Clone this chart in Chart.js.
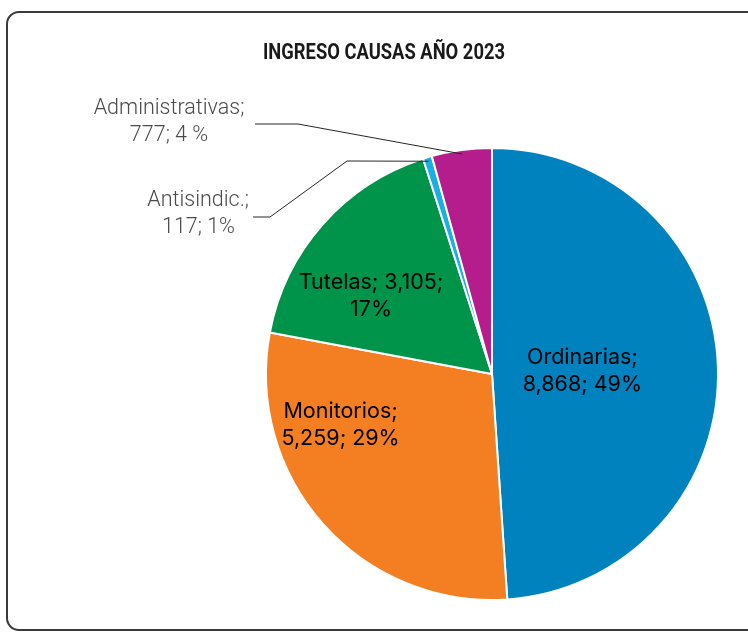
<!DOCTYPE html>
<html>
<head>
<meta charset="utf-8">
<script src="https://cdn.jsdelivr.net/npm/chart.js@4.4.1/dist/chart.umd.min.js"></script>
<style>
    html, body { margin: 0; padding: 0; background: #fff; overflow: hidden; }
    .wrap { position: absolute; left: 0; top: 0; width: 748px; height: 633px; }
</style>
</head>
<body>
<div class="wrap"><canvas id="pieChart" width="748" height="633"></canvas></div>
<script>
// data
const categories = ["Ordinarias", "Monitorios", "Tutelas", "Antisindic.", "Administrativas"];
const values = [8868, 5259, 3105, 117, 777];
const percentLabels = ["49%", "29%", "17%", "1%", "4 %"];
const valueLabels = ["8,868", "5,259", "3,105", "117", "777"];
const sliceColors = ["#0082BE", "#F47F22", "#00944A", "#1BAEE5", "#B51C8C"];
const chartTitle = "INGRESO CAUSAS AÑO 2023";

// label placement: inside labels offset from pie centre (fractions of radius),
// outside labels placed at a fixed spot with leader line
const labelLayout = [
    { inside: true, dx: 0.40, dy: -0.015, lines: (i) => [categories[i] + ";", valueLabels[i] + "; " + percentLabels[i]] },
    { inside: true, dx: -0.67, dy: 0.225, lines: (i) => [categories[i] + ";", valueLabels[i] + "; " + percentLabels[i]] },
    { inside: true, dx: -0.535, dy: -0.345, lines: (i) => [categories[i] + "; " + valueLabels[i] + ";", percentLabels[i]] },
    { inside: false, x: 249, y: 206, align: "right", shift: -14, path: [[253, 217], [270, 217], [347, 161]] },
    { inside: false, x: 169, y: 114, align: "center", shift: 0, path: [[255, 124], [298, 124]] },
];

// frame only shows its left, top and bottom edges; the right side runs off the page
const framePlugin = {
    id: "frame",
    beforeDraw(chart) {
        const ctx = chart.ctx;
        ctx.save();
        ctx.strokeStyle = "#3a3a3a";
        ctx.lineWidth = 2;
        ctx.beginPath();
        ctx.moveTo(760, 12);
        ctx.lineTo(19, 12);
        ctx.arcTo(7, 12, 7, 24, 12);
        ctx.lineTo(7, 618);
        ctx.arcTo(7, 630, 19, 630, 12);
        ctx.lineTo(760, 630);
        ctx.stroke();
        ctx.restore();
    },
};

const labelPlugin = {
    id: "pieLabels",
    afterDraw(chart) {
        const ctx = chart.ctx;
        const meta = chart.getDatasetMeta(0);

        // title, squeezed like a condensed face
        ctx.save();
        ctx.font = "bold 22px Roboto";
        ctx.fillStyle = "#1a1a1a";
        const tw = ctx.measureText(chartTitle).width;
        ctx.translate(384, 59);
        ctx.scale(242 / tw, 1);
        ctx.textAlign = "center";
        ctx.textBaseline = "alphabetic";
        ctx.fillText(chartTitle, 0, 0);
        ctx.restore();

        meta.data.forEach((arc, i) => {
            const lay = labelLayout[i];
            const cx = arc.x, cy = arc.y, r = arc.outerRadius;
            ctx.save();
            if (lay.inside) {
                ctx.font = "21.5px Inter";
                ctx.fillStyle = "#000";
                ctx.textAlign = "center";
                ctx.textBaseline = "middle";
                const lines = lay.lines(i);
                const x = cx + lay.dx * r, y = cy + lay.dy * r;
                ctx.fillText(lines[0], x, y - 13.5);
                ctx.fillText(lines[1], x, y + 13.5);
            } else {
                const mid = (arc.startAngle + arc.endAngle) / 2;
                const ex = cx + Math.cos(mid) * (r - 4);
                const ey = cy + Math.sin(mid) * (r - 4);
                ctx.strokeStyle = "#262626";
                ctx.lineWidth = 1;
                ctx.beginPath();
                lay.path.forEach((p, k) => (k ? ctx.lineTo(p[0], p[1]) : ctx.moveTo(p[0], p[1])));
                ctx.lineTo(ex, ey);
                ctx.stroke();

                ctx.font = "300 21.5px Roboto";
                ctx.fillStyle = "#4a4a4a";
                ctx.textAlign = lay.align;
                ctx.textBaseline = "alphabetic";
                ctx.fillText(categories[i] + ";", lay.x, lay.y);
                ctx.fillText(valueLabels[i] + "; " + percentLabels[i], lay.x + lay.shift, lay.y + 27);
            }
            ctx.restore();
        });
    },
};

const pieCtx = document.getElementById("pieChart").getContext("2d");
new Chart(pieCtx, {
    type: "pie",
    data: {
        labels: categories,
        datasets: [{
            data: values,
            backgroundColor: sliceColors,
            borderColor: "#ffffff",
            borderWidth: 2,
        }],
    },
    options: {
        responsive: false,
        animation: false,
        radius: 226,
        layout: {
            padding: { left: 266, top: 148, right: 30, bottom: 33 },
        },
        plugins: {
            legend: { display: false },
            tooltip: { enabled: false },
            title: { display: false },
        },
    },
    plugins: [framePlugin, labelPlugin],
});
</script>
</body>
</html>
